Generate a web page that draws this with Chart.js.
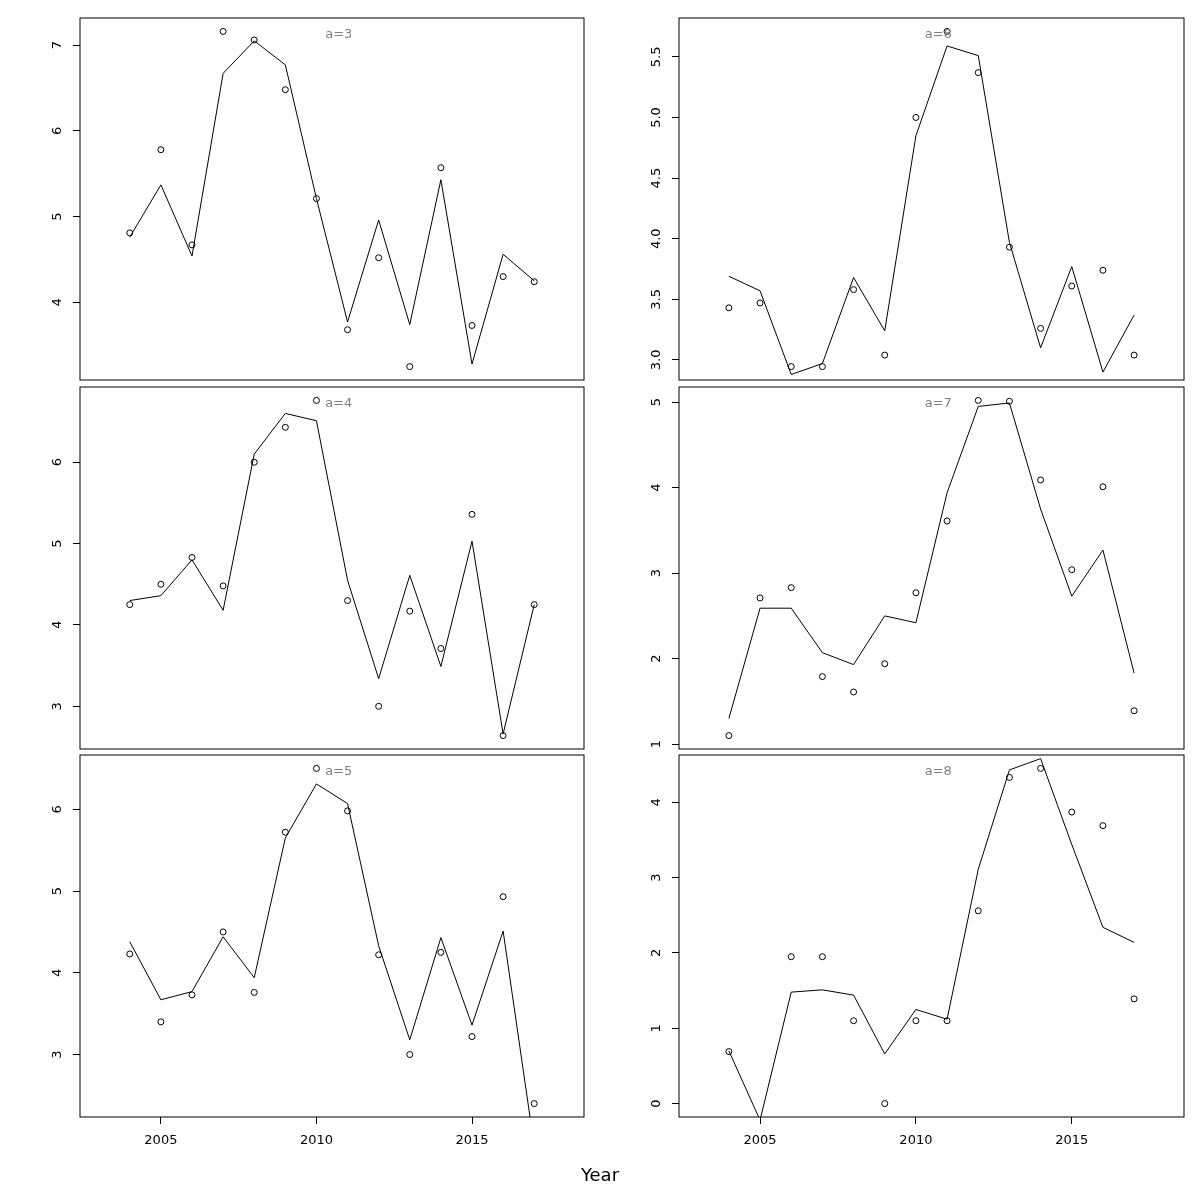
<!DOCTYPE html>
<html>
<head>
<meta charset="utf-8">
<script src="https://cdn.jsdelivr.net/npm/chart.js@4"></script>
<style>
  body { margin: 0; background: #fff; }
  #wrap { position: relative; width: 1200px; height: 1200px; overflow: hidden; }
  canvas { position: absolute; }
  #xlab { position: absolute; left: 0; width: 1200px; top: 1164px; line-height: 18px;
          text-align: center; font: 18px "DejaVu Sans", sans-serif; color: #000; }
</style>
</head>
<body>
<div id="wrap">
  <canvas id="p3" width="600" height="384"></canvas>
  <canvas id="p6" width="600" height="384"></canvas>
  <canvas id="p4" width="600" height="367"></canvas>
  <canvas id="p7" width="600" height="367"></canvas>
  <canvas id="p5" width="600" height="449"></canvas>
  <canvas id="p8" width="600" height="449"></canvas>
  <div id="xlab">Year</div>
</div>
<script>
// data
const years = [2004, 2005, 2006, 2007, 2008, 2009, 2010, 2011, 2012, 2013, 2014, 2015, 2016, 2017];

const obs3 = [4.81, 5.78, 4.67, 7.16, 7.06, 6.48, 5.21, 3.68, 4.52, 3.25, 5.57, 3.73, 4.30, 4.24];
const fit3 = [4.76, 5.37, 4.54, 6.67, 7.05, 6.77, 5.21, 3.77, 4.96, 3.74, 5.43, 3.28, 4.56, 4.25];

const obs4 = [4.25, 4.50, 4.83, 4.48, 6.00, 6.43, 6.76, 4.30, 3.00, 4.17, 3.71, 5.36, 2.64, 4.25];
const fit4 = [4.30, 4.36, 4.80, 4.18, 6.10, 6.60, 6.51, 4.55, 3.34, 4.61, 3.49, 5.03, 2.66, 4.25];

const obs5 = [4.23, 3.40, 3.73, 4.50, 3.76, 5.72, 6.50, 5.98, 4.22, 3.00, 4.25, 3.22, 4.93, 2.40];
const fit5 = [4.38, 3.67, 3.77, 4.44, 3.94, 5.65, 6.31, 6.07, 4.33, 3.18, 4.43, 3.36, 4.51, 1.88];

const obs6 = [3.43, 3.47, 2.945, 2.945, 3.58, 3.04, 5.00, 5.71, 5.37, 3.93, 3.26, 3.61, 3.74, 3.04];
const fit6 = [3.69, 3.57, 2.88, 2.97, 3.68, 3.24, 4.85, 5.59, 5.51, 3.97, 3.10, 3.77, 2.90, 3.37];

const obs7 = [1.10, 2.71, 2.83, 1.79, 1.61, 1.94, 2.77, 3.61, 5.02, 5.01, 4.09, 3.04, 4.01, 1.39];
const fit7 = [1.30, 2.59, 2.59, 2.07, 1.93, 2.50, 2.42, 3.94, 4.95, 4.99, 3.75, 2.73, 3.27, 1.83];

const obs8 = [0.69, null, 1.95, 1.95, 1.10, 0.00, 1.10, 1.10, 2.56, 4.33, 4.45, 3.87, 3.69, 1.39];
const fit8 = [0.70, -0.22, 1.48, 1.51, 1.44, 0.66, 1.25, 1.12, 3.11, 4.43, 4.58, 3.44, 2.34, 2.14];

const xTicks = [2005, 2010, 2015];
const xLimits = [2003, 2018];

const FONT = '"DejaVu Sans", sans-serif';

// helpers
function pairs(vals) {
    return years.map((y, i) => ({ x: y, y: vals[i] }));
}

// R style 4% range extension
function extend(lo, hi) {
    const d = (hi - lo) * 0.04;
    return [lo - d, hi + d];
}

// frame, rotated y labels and panel tag
const panelPlugin = {
    id: 'panel',
    afterDraw(chart, args, opts) {
        const ctx = chart.ctx;
        const a = chart.chartArea;
        ctx.save();
        ctx.strokeStyle = '#000';
        ctx.lineWidth = 1;
        ctx.strokeRect(a.left, a.top, a.right - a.left, a.bottom - a.top);

        const ys = chart.scales.y;
        ctx.fillStyle = '#000';
        ctx.font = '13px ' + FONT;
        ctx.textAlign = 'center';
        ctx.textBaseline = 'alphabetic';
        ys.ticks.forEach(t => {
            const py = ys.getPixelForValue(t.value);
            ctx.save();
            ctx.translate(a.left - 19, py);
            ctx.rotate(-Math.PI / 2);
            ctx.fillText(opts.decimals ? t.value.toFixed(opts.decimals) : String(t.value), 0, 0);
            ctx.restore();
        });

        ctx.fillStyle = '#808080';
        ctx.textBaseline = 'middle';
        ctx.fillText(opts.tag, a.left + (a.right - a.left) * 0.5135, a.top + 17);
        ctx.restore();
    }
};

function makePanel(id, tag, obs, fit, opt) {
    const el = document.getElementById(id);
    el.style.left = opt.left + 'px';
    el.style.top = opt.top + 'px';
    const vals = obs.filter(v => v !== null);
    const yr = extend(Math.min(...vals), Math.max(...vals));
    const xr = extend(xLimits[0], xLimits[1]);

    new Chart(el, {
        type: 'scatter',
        data: {
            datasets: [{
                data: pairs(fit),
                showLine: true,
                borderColor: '#000',
                borderWidth: 1,
                pointRadius: 0,
                tension: 0
            }, {
                data: pairs(obs),
                showLine: false,
                pointStyle: 'circle',
                pointRadius: 3,
                pointBorderWidth: 1,
                pointBorderColor: '#000',
                pointBackgroundColor: 'rgba(0,0,0,0)'
            }]
        },
        options: {
            responsive: false,
            animation: false,
            events: [],
            layout: { autoPadding: false, padding: { top: opt.padTop, bottom: 0, left: 0, right: 16 } },
            plugins: {
                legend: { display: false },
                tooltip: { enabled: false },
                panel: { tag: tag, decimals: opt.decimals }
            },
            scales: {
                x: {
                    type: 'linear',
                    min: xr[0],
                    max: xr[1],
                    border: { display: false },
                    grid: { drawOnChartArea: false, drawTicks: opt.showX, tickLength: 7, color: '#000' },
                    ticks: {
                        display: opt.showX,
                        stepSize: 5,
                        includeBounds: false,
                        autoSkip: false,
                        maxRotation: 0,
                        padding: 9,
                        color: '#000',
                        font: { family: FONT, size: 13 },
                        callback: v => xTicks.includes(v) ? String(v) : ''
                    },
                    afterFit(s) { s.height = opt.xHeight; }
                },
                y: {
                    min: yr[0],
                    max: yr[1],
                    border: { display: false },
                    grid: { drawOnChartArea: false, drawTicks: true, tickLength: 7, color: '#000' },
                    ticks: { display: false, stepSize: opt.step, includeBounds: false },
                    afterFit(s) { s.width = opt.yWidth; }
                }
            }
        },
        plugins: [panelPlugin]
    });
}

makePanel('p3', 'a=3', obs3, fit3, { left: 0,   top: 0,   yWidth: 80, padTop: 18, xHeight: 4,  showX: false, step: 1 });
makePanel('p6', 'a=6', obs6, fit6, { left: 600, top: 0,   yWidth: 79, padTop: 18, xHeight: 4,  showX: false, step: 0.5, decimals: 1 });
makePanel('p4', 'a=4', obs4, fit4, { left: 0,   top: 384, yWidth: 80, padTop: 3,  xHeight: 2,  showX: false, step: 1 });
makePanel('p7', 'a=7', obs7, fit7, { left: 600, top: 384, yWidth: 79, padTop: 3,  xHeight: 2,  showX: false, step: 1 });
makePanel('p5', 'a=5', obs5, fit5, { left: 0,   top: 751, yWidth: 80, padTop: 4,  xHeight: 83, showX: true, step: 1 });
makePanel('p8', 'a=8', obs8, fit8, { left: 600, top: 751, yWidth: 79, padTop: 4,  xHeight: 83, showX: true, step: 1 });
</script>
</body>
</html>
